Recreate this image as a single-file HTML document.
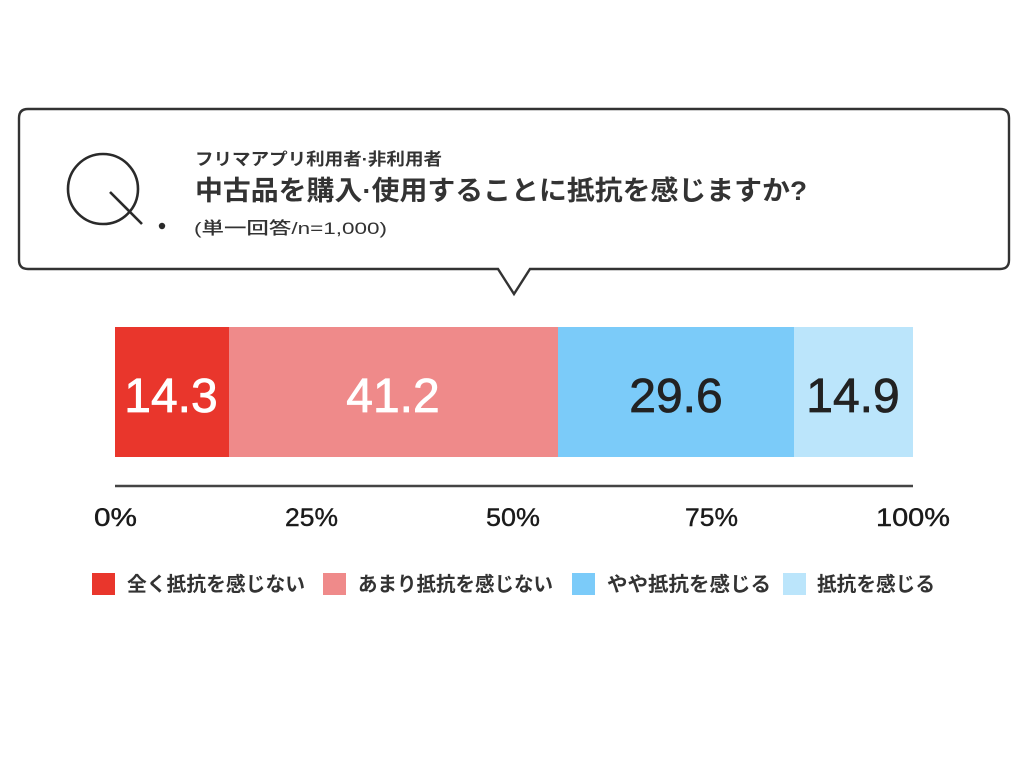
<!DOCTYPE html>
<html>
<head>
<meta charset="utf-8">
<style>
html,body{margin:0;padding:0;background:#fff;}
svg{display:block;}
.jp{font-family:"Liberation Sans","Noto Sans CJK JP",sans-serif;}
</style>
</head>
<body>
<svg width="1024" height="768" viewBox="0 0 1024 768" xmlns="http://www.w3.org/2000/svg">
  <rect width="1024" height="768" fill="#fff"/>
  <!-- speech box -->
  <path d="M28,109 H1000 Q1009,109 1009,118 V260 Q1009,269 1000,269 H530 L514,294 L498,269 H28 Q19,269 19,260 V118 Q19,109 28,109 Z" fill="#fff" stroke="#333" stroke-width="2.4" stroke-linejoin="miter"/>
  <!-- Q -->
  <circle cx="103" cy="189" r="35" fill="none" stroke="#2a2a2a" stroke-width="2.6"/>
  <line x1="110" y1="192" x2="142" y2="224" stroke="#2a2a2a" stroke-width="2.6"/>
  <circle cx="162" cy="226" r="3.2" fill="#2a2a2a"/>
  <!-- titles -->
  <text class="jp" x="195" y="165" font-size="17" font-weight="700" fill="#333" textLength="247" lengthAdjust="spacingAndGlyphs">フリマアプリ利用者·非利用者</text>
  <text class="jp" x="195" y="200" font-size="27" font-weight="700" fill="#333" textLength="612" lengthAdjust="spacingAndGlyphs">中古品を購入·使用することに抵抗を感じますか?</text>
  <text class="jp" x="194" y="234" font-size="17" font-weight="500" fill="#333" textLength="193" lengthAdjust="spacingAndGlyphs">(単一回答/n=1,000)</text>
  <!-- bars -->
  <rect x="115" y="327" width="114" height="130" fill="#e9362c"/>
  <rect x="229" y="327" width="329" height="130" fill="#ef8a8a"/>
  <rect x="558" y="327" width="236" height="130" fill="#7bcbf9"/>
  <rect x="794" y="327" width="119" height="130" fill="#bbe5fb"/>
  <g font-family="Liberation Sans, sans-serif" font-size="48" text-anchor="middle" stroke-width="0.8">
    <text x="171" y="412" fill="#fff" stroke="#fff">14.3</text>
    <text x="393" y="412" fill="#fff" stroke="#fff">41.2</text>
    <text x="676" y="412" fill="#222" stroke="#222">29.6</text>
    <text x="853" y="412" fill="#222" stroke="#222">14.9</text>
  </g>
  <!-- axis -->
  <line x1="115" y1="486" x2="913" y2="486" stroke="#444" stroke-width="2.6"/>
  <g font-family="Liberation Sans, sans-serif" font-size="25" fill="#1a1a1a" stroke="#1a1a1a" stroke-width="0.4">
    <text x="94" y="526" textLength="43" lengthAdjust="spacingAndGlyphs">0%</text>
    <text x="285" y="526" textLength="53" lengthAdjust="spacingAndGlyphs">25%</text>
    <text x="486" y="526" textLength="54" lengthAdjust="spacingAndGlyphs">50%</text>
    <text x="685" y="526" textLength="53" lengthAdjust="spacingAndGlyphs">75%</text>
    <text x="876" y="526" textLength="74" lengthAdjust="spacingAndGlyphs">100%</text>
  </g>
  <!-- legend -->
  <rect x="92" y="573" width="23" height="22" fill="#e9362c"/>
  <rect x="323" y="573" width="23" height="22" fill="#ef8a8a"/>
  <rect x="572" y="573" width="23" height="22" fill="#7bcbf9"/>
  <rect x="783" y="573" width="23" height="22" fill="#bbe5fb"/>
  <g class="jp" font-size="20" font-weight="700" fill="#333">
    <text x="127" y="591" textLength="178" lengthAdjust="spacingAndGlyphs">全く抵抗を感じない</text>
    <text x="358" y="591" textLength="195" lengthAdjust="spacingAndGlyphs">あまり抵抗を感じない</text>
    <text x="607" y="591" textLength="164" lengthAdjust="spacingAndGlyphs">やや抵抗を感じる</text>
    <text x="817" y="591" textLength="118" lengthAdjust="spacingAndGlyphs">抵抗を感じる</text>
  </g>
</svg>
</body>
</html>
